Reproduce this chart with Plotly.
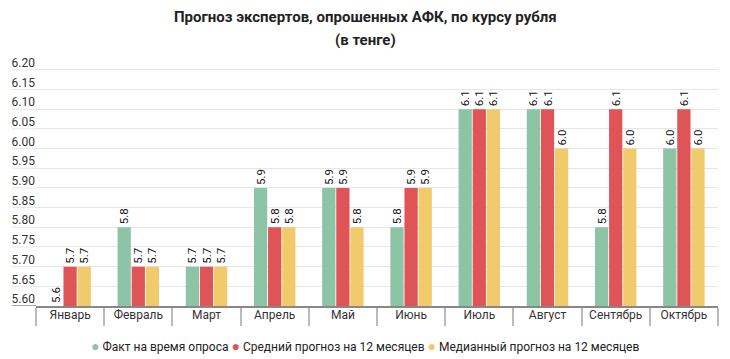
import plotly.graph_objects as go

months = ["Январь", "Февраль", "Март", "Апрель", "Май", "Июнь", "Июль", "Август", "Сентябрь", "Октябрь"]
fact = [5.6, 5.8, 5.7, 5.9, 5.9, 5.8, 6.1, 6.1, 5.8, 6.0]
mean_fc = [5.7, 5.7, 5.7, 5.8, 5.9, 5.9, 6.1, 6.1, 6.1, 6.1]
median_fc = [5.7, 5.7, 5.7, 5.8, 5.8, 5.9, 6.1, 6.0, 6.0, 6.0]
series_names = ["Факт на время опроса", "Средний прогноз на 12 месяцев", "Медианный прогноз на 12 месяцев"]
colors = ["#8dc4a6", "#df5457", "#f0ca6b"]
y_ticks = [5.60, 5.65, 5.70, 5.75, 5.80, 5.85, 5.90, 5.95, 6.00, 6.05, 6.10, 6.15, 6.20]

FONT = "Roboto"
fig = go.Figure()
for name, vals, col in zip(series_names, [fact, mean_fc, median_fc], colors):
    fig.add_trace(go.Bar(
        x=months, y=vals, name=name, marker=dict(color=col, line=dict(width=0)),
        texttemplate="%{y:.1f}", textposition="outside", textangle=-90,
        textfont=dict(family=FONT, size=11.5, color="#111"), constraintext="none",
        cliponaxis=False, showlegend=False,
    ))

# legend line built from the series names and colours
legend_text = "&nbsp;".join(
    f'<span style="color:{c};font-size:14px">●</span>&nbsp;{n}' for n, c in zip(series_names, colors)
)

# page body has an 8px margin, so the figure is 8px smaller than the window
OFF = 8
W, H = 730 - OFF, 359 - OFF
ML, MR, MT, MB = 36 - OFF, 12, 62 - OFF, 53
plot_w = W - ML - MR
plot_h = H - MT - MB
EXT = -24 / plot_w  # gridlines reach left under the y tick labels


def ypaper(px):
    return (H - MB - (px - OFF)) / plot_h


def xpaper(px):
    return (px - OFF - ML) / plot_w


XC = xpaper(365)  # page centre

shapes = []
for t in y_ticks[1:]:
    shapes.append(dict(type="line", xref="paper", x0=EXT, x1=0, yref="y", y0=t, y1=t,
                       line=dict(color="#e6e6e6", width=1), layer="below"))
shapes.append(dict(type="line", xref="paper", x0=EXT, x1=0, yref="y", y0=y_ticks[0], y1=y_ticks[0],
                   line=dict(color="#888888", width=1.5), layer="above"))

fig.update_layout(
    width=W, height=H,
    margin=dict(l=ML, r=MR, t=MT, b=MB),
    paper_bgcolor="white", plot_bgcolor="white",
    barmode="group", bargap=0.38, bargroupgap=0.06,
    font=dict(family=FONT, color="#333"),
    showlegend=False,
    shapes=shapes,
    xaxis=dict(
        type="category", categoryorder="array", categoryarray=months,
        range=[-0.5, 9.5], tickson="boundaries", ticks="outside", ticklen=18,
        tickcolor="#bbbbbb", tickwidth=1.5, showgrid=False,
        showline=True, linecolor="#888888", linewidth=1.5,
        tickfont=dict(family=FONT, size=12, color="#333"),
        ticklabelstandoff=-3,
    ),
    yaxis=dict(
        range=[5.6, 6.22], tickvals=y_ticks, ticktext=[f"{t:.2f}" for t in y_ticks],
        ticklabelposition="outside", ticklabelshift=-7, ticklabelstandoff=0,
        tickfont=dict(family=FONT, size=12, color="#333"), automargin=False,
        showgrid=True, gridcolor="#e6e6e6", gridwidth=1, zeroline=False, showline=False,
        ticks="",
    ),
    annotations=[
        dict(text="<b>Прогноз экспертов, опрошенных АФК, по курсу рубля</b>", x=XC, xref="paper",
             xanchor="center", y=ypaper(17), yref="paper", yanchor="middle", showarrow=False,
             font=dict(family=FONT, size=15, color="#222")),
        dict(text="<b>(в тенге)</b>", x=XC, xref="paper", xanchor="center", y=ypaper(40), yref="paper",
             yanchor="middle", showarrow=False, font=dict(family=FONT, size=15, color="#222")),
        dict(text=legend_text, x=XC, xref="paper", y=ypaper(346), yref="paper",
             xanchor="center", yanchor="middle", showarrow=False,
             font=dict(family=FONT, size=12, color="#222")),
    ],
)

fig.write_html("out.html")
